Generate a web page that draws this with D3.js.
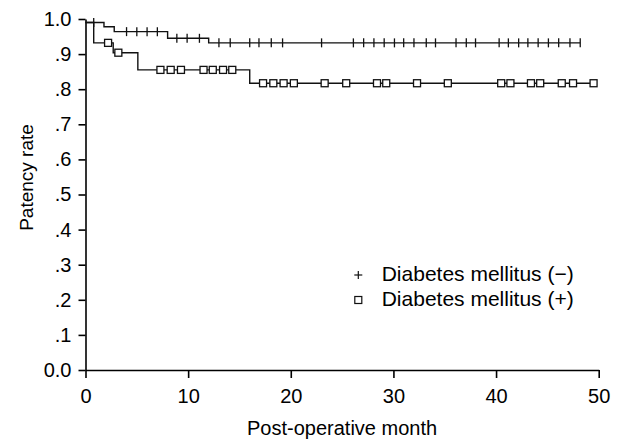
<!DOCTYPE html>
<html>
<head>
<meta charset="utf-8">
<script src="https://cdn.jsdelivr.net/npm/d3@7"></script>
<style>
  body { margin: 0; background: #fff; }
  text { font-family: "Liberation Sans", Arial, sans-serif; fill: #000; }
</style>
</head>
<body>
<div id="chart"></div>
<script>
// Axis ticks
var monthTicks = [0, 10, 20, 30, 40, 50];
var rateTicks = [0, 0.1, 0.2, 0.3, 0.4, 0.5, 0.6, 0.7, 0.8, 0.9, 1.0];
var rateTickLabels = ["0.0", ".1", ".2", ".3", ".4", ".5", ".6", ".7", ".8", ".9", "1.0"];

// Legend
var seriesNames = ["Diabetes mellitus (\u2212)", "Diabetes mellitus (+)"];

// Diabetes (-) : step times / rates, end of follow-up, censored months
var negTimes = [0, 1.8, 2.8, 8.0, 12.0];
var negRates = [0.99, 0.978, 0.964, 0.945, 0.932];
var negEnd = 48.2;
var negCensored = [0.8, 4.0, 5.0, 6.0, 7.0, 8.9, 9.9, 11.1, 13.0, 14.1, 16.0, 16.9, 18.1, 19.2,
  23.0, 26.1, 27.1, 28.1, 29.1, 30.1, 31.0, 32.0, 33.2, 34.1, 36.1, 37.1, 38.0,
  40.3, 41.2, 42.2, 43.1, 44.1, 45.1, 46.1, 47.2, 48.2];

// Diabetes (+)
var posTimes = [0, 0.8, 2.7, 5.1, 16.0];
var posRates = [0.99, 0.932, 0.904, 0.855, 0.817];
var posEnd = 49.5;
var posCensored = [2.2, 3.2, 7.3, 8.3, 9.3, 11.5, 12.4, 13.4, 14.3, 17.3, 18.3, 19.3, 20.3,
  23.3, 25.4, 28.4, 29.3, 32.3, 35.3, 40.5, 41.4, 43.4, 44.3, 46.4, 47.5, 49.5];

var width = 622;
var height = 441;

var svg = d3.select("#chart")
  .append("svg")
  .attr("width", width)
  .attr("height", height);

var xScale = d3.scaleLinear().domain([0, 50]).range([85.5, 598.7]);
var yScale = d3.scaleLinear().domain([0, 1]).range([370, 19]);

// X axis
var xAxis = d3.axisBottom(xScale)
  .tickValues(monthTicks)
  .tickSize(8)
  .tickSizeOuter(0)
  .tickPadding(11);

var gx = svg.append("g")
  .attr("transform", "translate(0," + yScale(0) + ")")
  .call(xAxis);
gx.selectAll("text").style("font-size", "20px");

// Y axis
var yAxis = d3.axisLeft(yScale)
  .tickValues(rateTicks)
  .tickFormat(function(d, i) { return rateTickLabels[i]; })
  .tickSize(7)
  .tickSizeOuter(0)
  .tickPadding(7);

var gy = svg.append("g")
  .attr("transform", "translate(" + xScale(0) + ",0)")
  .call(yAxis);
gy.selectAll("text").style("font-size", "20px");

svg.selectAll(".domain, .tick line")
  .attr("stroke", "#000")
  .attr("stroke-width", 1.6);

// step function lookup
function rateAt(times, rates, t) {
  var i = d3.bisectRight(times, t) - 1;
  return rates[Math.max(i, 0)];
}

function stepPoints(times, rates, end) {
  var pts = times.map(function(t, i) { return [t, rates[i]]; });
  pts.push([end, rates[rates.length - 1]]);
  return pts;
}

var line = d3.line()
  .x(function(d) { return xScale(d[0]); })
  .y(function(d) { return yScale(d[1]); })
  .curve(d3.curveStepAfter);

// Curves
svg.append("path")
  .attr("d", line(stepPoints(posTimes, posRates, posEnd)))
  .attr("fill", "none")
  .attr("stroke", "#111")
  .attr("stroke-width", 1.4);

svg.append("path")
  .attr("d", line(stepPoints(negTimes, negRates, negEnd)))
  .attr("fill", "none")
  .attr("stroke", "#111")
  .attr("stroke-width", 1.4);

// Censor marks (-): vertical ticks
svg.selectAll("line.neg")
  .data(negCensored)
  .enter()
  .append("line")
  .attr("class", "neg")
  .attr("x1", function(d) { return xScale(d); })
  .attr("x2", function(d) { return xScale(d); })
  .attr("y1", function(d) { return yScale(rateAt(negTimes, negRates, d)) - 4.5; })
  .attr("y2", function(d) { return yScale(rateAt(negTimes, negRates, d)) + 4.5; })
  .attr("stroke", "#111")
  .attr("stroke-width", 1.3);

// Censor marks (+): squares
var sq = 7;
svg.selectAll("rect.pos")
  .data(posCensored)
  .enter()
  .append("rect")
  .attr("class", "pos")
  .attr("x", function(d) { return xScale(d) - sq / 2; })
  .attr("y", function(d) { return yScale(rateAt(posTimes, posRates, d)) - sq / 2; })
  .attr("width", sq)
  .attr("height", sq)
  .attr("fill", "#fff")
  .attr("stroke", "#111")
  .attr("stroke-width", 1.3);

// Legend
var legX = 358.3;
var legend = svg.append("g");

legend.append("line")
  .attr("x1", legX - 4).attr("x2", legX + 4)
  .attr("y1", 275).attr("y2", 275)
  .attr("stroke", "#111").attr("stroke-width", 1.2);
legend.append("line")
  .attr("x1", legX).attr("x2", legX)
  .attr("y1", 271).attr("y2", 279)
  .attr("stroke", "#111").attr("stroke-width", 1.2);
legend.append("rect")
  .attr("x", legX - 3.5).attr("y", 296.5)
  .attr("width", 7).attr("height", 7)
  .attr("fill", "#fff")
  .attr("stroke", "#111").attr("stroke-width", 1.2);

legend.selectAll("text")
  .data(seriesNames)
  .enter()
  .append("text")
  .attr("x", 381.7)
  .attr("y", function(d, i) { return 280.5 + i * 25.5; })
  .attr("font-size", "21px")
  .text(function(d) { return d; });

// X axis label
svg.append("text")
  .attr("x", (xScale(0) + xScale(50)) / 2)
  .attr("y", 435)
  .attr("text-anchor", "middle")
  .attr("font-size", "20px")
  .text("Post-operative month");

// Y axis label
svg.append("text")
  .attr("transform", "translate(33,177.5) rotate(-90)")
  .attr("text-anchor", "middle")
  .attr("font-size", "19px")
  .text("Patency rate");
</script>
</body>
</html>
